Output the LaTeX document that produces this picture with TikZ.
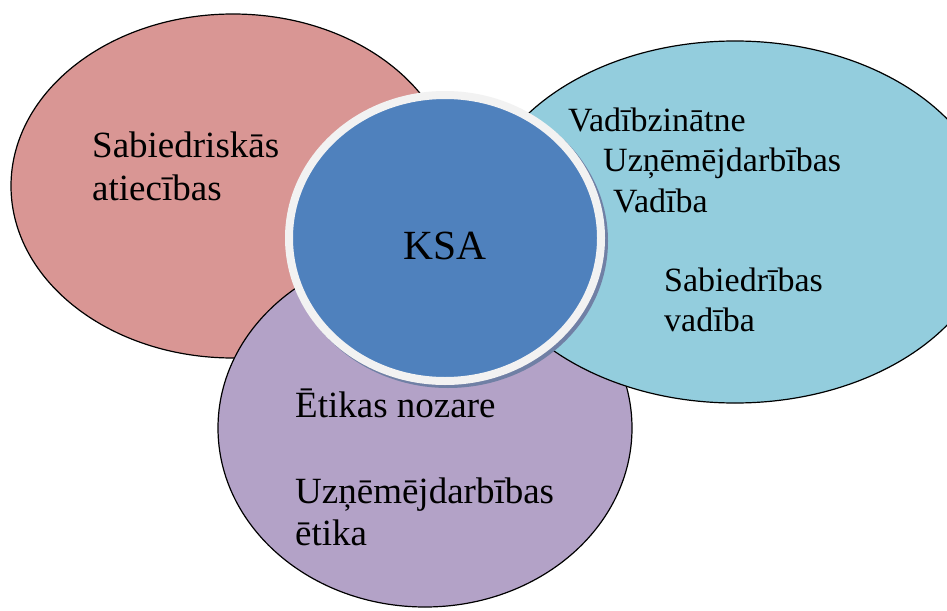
\documentclass[tikz,border=0pt]{standalone}
\usepackage{fontspec}
\setmainfont{Liberation Serif}
\usetikzlibrary{shapes.geometric}
\definecolor{redfill}{HTML}{D99694}
\definecolor{tealfill}{HTML}{93CDDD}
\definecolor{purplefill}{HTML}{B3A2C7}
\definecolor{ksablue}{HTML}{4F81BD}
\definecolor{ringgray}{HTML}{F2F2F2}
\definecolor{shadowc}{HTML}{7080A5}
\tikzset{
  blob/.style={ellipse, draw=black, line width=1.2pt, inner sep=0pt, outer sep=0pt},
  lbl/.style={anchor=base west, inner sep=0pt, font=\fontsize{37pt}{42pt}\selectfont},
  lblsm/.style={anchor=base west, inner sep=0pt, font=\fontsize{34pt}{40pt}\selectfont},
}
\begin{document}
\begin{tikzpicture}[x=1pt,y=1pt]
\useasboundingbox (0,0) rectangle (947,-610);
\clip (0,0) rectangle (947,-610);
\fill[white] (0,0) rectangle (947,-610);
% ellipses
\node[blob, fill=redfill, minimum width=444pt, minimum height=344pt] (red) at (233,-186) {};
\node[blob, fill=purplefill, minimum width=414pt, minimum height=358pt] (purple) at (425,-428) {};
\node[blob, fill=tealfill, minimum width=516pt, minimum height=362pt] (teal) at (735,-222) {};
% KSA circle
\node[ellipse, fill=shadowc, inner sep=0pt, minimum width=320pt, minimum height=294pt] (ksashadow) at (448,-241) {};
\node[ellipse, fill=ksablue, draw=ringgray, line width=8pt, inner sep=0pt, minimum width=312pt, minimum height=286pt] (ksa) at (445,-238) {};
\node[anchor=base, inner sep=0pt, font=\fontsize{41.5pt}{48pt}\selectfont] (ksatext) at (445,-259) {KSA};
% red labels
\node[lbl] (r1) at (92,-157) {Sabiedriskās};
\node[lbl] (r2) at (92,-200) {atiecības};
% teal labels
\node[lblsm] (t1) at (568,-131) {Vadībzinātne};
\node[lblsm] (t2) at (603,-171) {Uzņēmējdarbības};
\node[lblsm] (t3) at (613,-212) {Vadība};
\node[lblsm] (t4) at (664,-291) {Sabiedrības};
\node[lblsm] (t5) at (664,-331) {vadība};
% purple labels
\node[lbl] (p1) at (295,-417) {Ētikas nozare};
\node[lbl] (p2) at (295,-503) {Uzņēmējdarbības};
\node[lbl] (p3) at (295,-545) {ētika};
\end{tikzpicture}
\end{document}
